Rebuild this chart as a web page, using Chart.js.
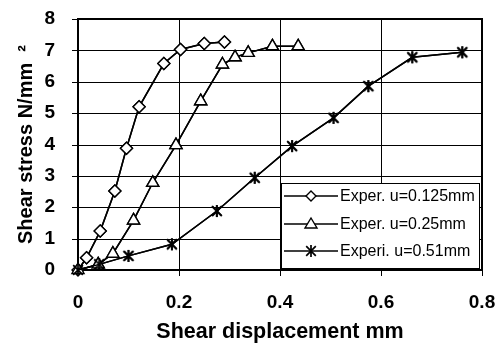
<!DOCTYPE html>
<html>
<head>
<meta charset="utf-8">
<script src="https://cdn.jsdelivr.net/npm/chart.js"></script>
<style>
  body { margin: 0; background: #fff; }
</style>
</head>
<body>
<canvas id="myChart" width="500" height="343"></canvas>
<script>
// data
var dispA = [0, 0.017, 0.044, 0.073, 0.096, 0.121, 0.17, 0.203, 0.25, 0.29];
var stressA = [0, 0.39, 1.24, 2.52, 3.88, 5.2, 6.58, 7.03, 7.22, 7.27];

var dispB = [0, 0.04, 0.069, 0.11, 0.148, 0.194, 0.243, 0.286, 0.311, 0.337, 0.385, 0.436];
var stressB = [0, 0.18, 0.52, 1.58, 2.78, 3.98, 5.38, 6.55, 6.78, 6.92, 7.13, 7.13];

var dispC = [0, 0.042, 0.1, 0.186, 0.275, 0.35, 0.424, 0.506, 0.575, 0.662, 0.761];
var stressC = [0, 0.18, 0.45, 0.82, 1.88, 2.94, 3.95, 4.85, 5.86, 6.78, 6.94];

var seriesLabels = ['Exper. u=0.125mm', 'Exper. u=0.25mm', 'Experi. u=0.51mm'];
var xTicks = [0, 0.2, 0.4, 0.6, 0.8];
var yTicks = [0, 1, 2, 3, 4, 5, 6, 7, 8];

var fontFam = '"Liberation Sans", Arial, sans-serif';

function toPoints(xs, ys) {
    return xs.map(function (x, i) { return { x: x, y: ys[i] }; });
}

// asterisk marker (vertical bar + X)
function makeStar(size) {
    var cv = document.createElement('canvas');
    cv.width = size; cv.height = size;
    var g = cv.getContext('2d');
    var m = size / 2, r = size / 2 - 1;
    g.strokeStyle = '#000';
    g.lineWidth = 1.7;
    g.beginPath();
    g.moveTo(m, m - r); g.lineTo(m, m + r);
    g.moveTo(m - r * 0.8, m - r * 0.8); g.lineTo(m + r * 0.8, m + r * 0.8);
    g.moveTo(m + r * 0.8, m - r * 0.8); g.lineTo(m - r * 0.8, m + r * 0.8);
    g.stroke();
    return cv;
}
var starMark = makeStar(14);

// grid + tick marks + frame, placed from the scales' own pixel mapping,
// then the series are drawn again on top
var plotGrid = {
    id: 'plotGrid',
    afterDatasetsDraw: function (chart) {
        var c = chart.ctx;
        var sx = chart.scales.x, sy = chart.scales.y;
        var L = Math.round(sx.getPixelForValue(xTicks[0]));
        var R = Math.round(sx.getPixelForValue(xTicks[xTicks.length - 1]));
        var B = Math.round(sy.getPixelForValue(yTicks[0]));
        var T = Math.round(sy.getPixelForValue(yTicks[yTicks.length - 1]));
        c.save();
        c.fillStyle = '#000';
        xTicks.forEach(function (v) {
            var px = Math.round(sx.getPixelForValue(v));
            c.fillRect(px, T, 1, B - T + 6);
        });
        yTicks.forEach(function (v) {
            var py = Math.round(sy.getPixelForValue(v));
            c.fillRect(L - 6, py, R - L + 6, 1);
        });
        c.fillRect(L - 1, T - 1, R - L + 2, 2);
        c.fillRect(L - 1, B - 1, R - L + 2, 2);
        c.fillRect(L - 1, T - 1, 2, B - T + 2);
        c.fillRect(R - 1, T - 1, 2, B - T + 2);
        c.restore();
        chart.getSortedVisibleDatasetMetas().forEach(function (meta) {
            meta.controller.draw();
        });
    }
};

// legend box inside the plot
var boxLegend = {
    id: 'boxLegend',
    afterDatasetsDraw: function (chart) {
        var c = chart.ctx;
        var x0 = 281, y0 = 183, w = 198, h = 85;
        c.save();
        c.fillStyle = '#fff';
        c.fillRect(x0, y0, w, h);
        c.strokeStyle = '#000';
        c.lineWidth = 1;
        c.strokeRect(x0 + 0.5, y0 + 0.5, w, h);
        c.font = '16px ' + fontFam;
        c.textBaseline = 'middle';
        var rows = [196, 224, 251];
        chart.data.datasets.forEach(function (ds, i) {
            var y = rows[i];
            c.beginPath();
            c.moveTo(284, y); c.lineTo(338, y);
            c.lineWidth = 1.4;
            c.stroke();
            var cx = 311;
            if (i === 0) {
                c.beginPath();
                c.moveTo(cx, y - 5); c.lineTo(cx + 5, y); c.lineTo(cx, y + 5); c.lineTo(cx - 5, y); c.closePath();
                c.fillStyle = '#fff'; c.fill(); c.stroke();
            } else if (i === 1) {
                c.beginPath();
                c.moveTo(cx, y - 6); c.lineTo(cx + 6, y + 4); c.lineTo(cx - 6, y + 4); c.closePath();
                c.fillStyle = '#fff'; c.fill(); c.stroke();
            } else {
                c.drawImage(starMark, cx - 7, y - 7);
            }
            c.fillStyle = '#000';
            c.fillText(ds.label, 340, y + 1);
        });
        c.restore();
    }
};

var myChart = new Chart(document.getElementById('myChart').getContext('2d'), {
    type: 'line',
    data: {
        datasets: [{
            label: seriesLabels[0],
            data: toPoints(dispA, stressA),
            borderColor: '#000',
            borderWidth: 1.5,
            pointStyle: 'rectRot',
            pointRadius: 6,
            pointBorderWidth: 1.4,
            pointBorderColor: '#000',
            pointBackgroundColor: '#fff'
        }, {
            label: seriesLabels[1],
            data: toPoints(dispB, stressB),
            borderColor: '#000',
            borderWidth: 1.5,
            pointStyle: 'triangle',
            pointRadius: 7,
            pointBorderWidth: 1.4,
            pointBorderColor: '#000',
            pointBackgroundColor: '#fff'
        }, {
            label: seriesLabels[2],
            data: toPoints(dispC, stressC),
            borderColor: '#000',
            borderWidth: 1.5,
            pointStyle: starMark
        }]
    },
    options: {
        responsive: false,
        animation: false,
        layout: { padding: { top: 19, right: 18, left: 0, bottom: 0 } },
        plugins: {
            legend: { display: false },
            tooltip: { enabled: false }
        },
        scales: {
            x: {
                type: 'linear',
                min: xTicks[0], max: xTicks[xTicks.length - 1],
                afterFit: function (s) { s.height = 73; s.paddingLeft = 0; s.paddingRight = 0; },
                grid: { display: false },
                border: { display: false },
                ticks: {
                    stepSize: 0.2,
                    color: '#000',
                    padding: 13,
                    maxRotation: 0,
                    font: { family: fontFam, size: 19, weight: 'bold' },
                    callback: function (v) { return String(Math.round(v * 10) / 10); }
                },
                title: {
                    display: true,
                    text: 'Shear displacement mm',
                    color: '#000',
                    padding: { top: 0, bottom: -2 },
                    font: { family: fontFam, size: 21.5, weight: 'bold' }
                }
            },
            y: {
                min: yTicks[0], max: yTicks[yTicks.length - 1],
                afterFit: function (s) { s.width = 78; s.paddingTop = 0; s.paddingBottom = 0; },
                grid: { display: false },
                border: { display: false },
                ticks: {
                    stepSize: 1,
                    color: '#000',
                    padding: 15,
                    font: { family: fontFam, size: 19, weight: 'bold' }
                },
                title: {
                    display: true,
                    text: 'Shear stress N/mm  \u00b2',
                    color: '#000',
                    padding: { top: 14, bottom: 0 },
                    font: { family: fontFam, size: 20, weight: 'bold' }
                }
            }
        }
    },
    plugins: [plotGrid, boxLegend]
});
</script>
</body>
</html>
